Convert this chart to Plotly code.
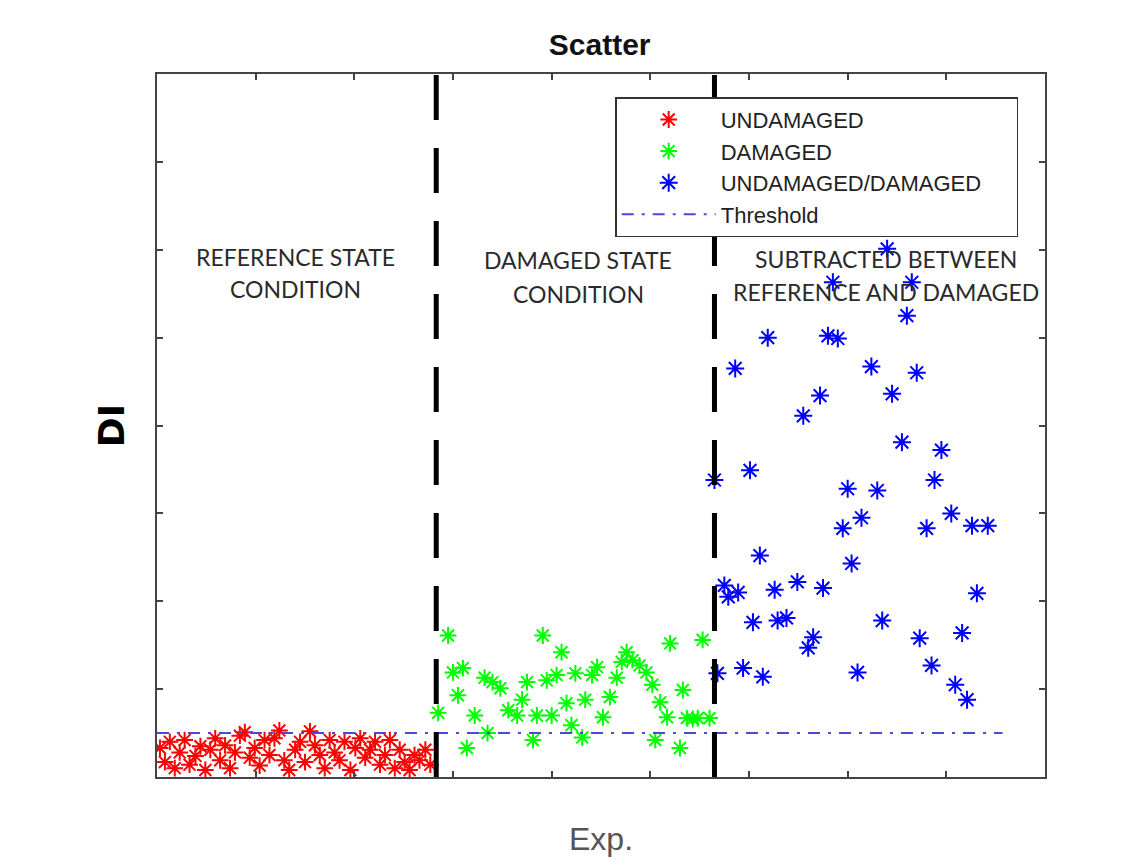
import plotly.graph_objects as go

# ---------------- data (axis units: x 0..9, y 0..8) ----------------
undamaged_x = [0.03, 0.08, 0.13, 0.18, 0.23, 0.28, 0.33, 0.39, 0.44, 0.49, 0.54, 0.59, 0.64, 0.69,
               0.74, 0.79, 0.84, 0.89, 0.94, 0.99, 1.04, 1.09, 1.14, 1.19, 1.24, 1.29, 1.34, 1.40,
               1.45, 1.50, 1.55, 1.60, 1.65, 1.70, 1.75, 1.80, 1.85, 1.90, 1.96, 2.01, 2.06, 2.11,
               2.16, 2.21, 2.26, 2.31, 2.36, 2.41, 2.46, 2.51, 2.56, 2.61, 2.66, 2.72, 2.77]
undamaged_y = [0.33, 0.17, 0.40, 0.10, 0.28, 0.42, 0.14, 0.24, 0.35, 0.08, 0.31, 0.44, 0.19, 0.36,
               0.10, 0.28, 0.47, 0.51, 0.22, 0.33, 0.13, 0.42, 0.25, 0.44, 0.53, 0.19, 0.08, 0.31,
               0.40, 0.17, 0.52, 0.36, 0.25, 0.10, 0.42, 0.28, 0.19, 0.40, 0.08, 0.33, 0.44, 0.22,
               0.31, 0.40, 0.14, 0.25, 0.42, 0.10, 0.31, 0.17, 0.08, 0.25, 0.19, 0.31, 0.14]

damaged_x = [2.95, 2.85, 3.00, 3.10, 3.05, 3.14, 3.22, 3.32, 3.40, 3.48, 3.35, 3.56, 3.65, 3.70,
             3.75, 3.81, 3.85, 3.91, 3.95, 4.00, 4.05, 4.10, 4.15, 4.20, 4.24, 4.31, 4.34, 4.41,
             4.46, 4.52, 4.59, 4.66, 4.71, 4.76, 4.82, 4.89, 4.96, 5.02, 5.05, 5.10, 5.17, 5.20,
             5.30, 5.33, 5.37, 5.43, 5.48, 5.53, 5.60]
damaged_y = [1.61, 0.73, 1.19, 1.24, 0.93, 0.33, 0.70, 1.13, 1.08, 1.01, 0.50, 0.76, 0.70, 0.88,
             1.08, 0.42, 0.70, 1.61, 1.10, 0.70, 1.16, 1.42, 0.84, 0.59, 1.18, 0.45, 0.88, 1.16,
             1.25, 0.68, 0.91, 1.13, 1.31, 1.42, 1.33, 1.27, 1.19, 1.05, 0.42, 0.85, 0.68, 1.52,
             0.33, 0.99, 0.67, 0.66, 0.67, 1.56, 0.67]

subtracted_x = [7.40, 6.85, 7.65, 7.60, 6.19, 6.80, 6.90, 5.86, 7.24, 7.70, 6.72, 7.45, 6.55, 7.55,
                7.95, 5.65, 6.01, 7.00, 7.30, 7.88, 7.14, 6.95, 7.80, 8.05, 8.26, 8.42, 6.11, 7.04,
                5.75, 5.79, 5.89, 6.26, 6.49, 6.75, 8.31, 6.04, 6.29, 6.38, 6.65, 6.60, 7.35, 7.73,
                8.16, 5.68, 5.94, 6.14, 7.10, 7.85, 8.09, 8.21]
subtracted_y = [6.01, 5.63, 5.63, 5.25, 5.00, 5.02, 4.99, 4.65, 4.67, 4.60, 4.34, 4.36, 4.11, 3.81,
                3.72, 3.38, 3.49, 3.28, 3.26, 3.38, 2.95, 2.83, 2.83, 3.00, 2.86, 2.86, 2.52, 2.43,
                2.18, 2.05, 2.10, 2.13, 2.22, 2.15, 2.09, 1.76, 1.78, 1.81, 1.59, 1.47, 1.78, 1.58,
                1.64, 1.18, 1.24, 1.14, 1.19, 1.27, 1.05, 0.88]

threshold_x = [0.0, 8.57]
threshold_y = [0.5, 0.5]

boundaries_x = [2.83, 5.65]

series_names = ["UNDAMAGED", "DAMAGED", "UNDAMAGED/DAMAGED", "Threshold"]

region_labels = [("REFERENCE STATE", "CONDITION", 1.40, 5.92, 5.55),
                 ("DAMAGED STATE", "CONDITION", 4.27, 5.88, 5.50),
                 ("SUBTRACTED BETWEEN", "REFERENCE AND DAMAGED", 7.39, 5.90, 5.52)]

# ---------------- figure ----------------
fig = go.Figure()

def star(color, size):
    return dict(symbol="asterisk", size=size, color=color, line=dict(width=2, color=color))

pad = "\u00a0" * 5  # widens the legend box like the original
fig.add_trace(go.Scatter(x=undamaged_x, y=undamaged_y, mode="markers", name=series_names[0],
                         marker=star("#ff0000", 14)))
fig.add_trace(go.Scatter(x=damaged_x, y=damaged_y, mode="markers", name=series_names[1],
                         marker=star("#00ff00", 14)))
fig.add_trace(go.Scatter(x=subtracted_x, y=subtracted_y, mode="markers", name=series_names[2] + pad,
                         marker=star("#0000ff", 15)))
fig.add_trace(go.Scatter(x=threshold_x, y=threshold_y, mode="lines", name=series_names[3],
                         line=dict(color="#4a4ad8", width=2, dash="12px,8px,3px,8px")))

for bx in boundaries_x:
    fig.add_shape(type="line", xref="x", yref="y", x0=bx, x1=bx, y0=0, y1=8,
                  line=dict(color="black", width=5, dash="45px,28px"), layer="above")

label_font = dict(family="Lato, Open Sans, sans-serif", size=23, color="#2a2a2a")
for l1, l2, cx, y1, y2 in region_labels:
    fig.add_annotation(x=cx, y=y1, text=l1, showarrow=False, font=label_font, xanchor="center", yanchor="middle")
    fig.add_annotation(x=cx, y=y2, text=l2, showarrow=False, font=label_font, xanchor="center", yanchor="middle")

axis_common = dict(showline=True, linecolor="#444444", linewidth=2, mirror="ticks",
                   ticks="inside", ticklen=6, tickwidth=1.5, tickcolor="#444444",
                   showticklabels=False, showgrid=False, zeroline=False)

fig.update_xaxes(range=[0, 9], tickmode="array", tickvals=[1, 2, 3, 4, 5, 6, 7, 8], **axis_common,
                 title=dict(text="Exp.", font=dict(family="Liberation Sans, Arial", size=32, color="#555555"),
                            standoff=50))
fig.update_yaxes(range=[0, 8], tickmode="array", tickvals=[1, 2, 3, 4, 5, 6, 7], **axis_common,
                 title=dict(text="<b>DI</b>", font=dict(family="DejaVu Sans", size=36, color="black"),
                            standoff=19))

fig.update_layout(
    width=1140, height=859,
    margin=dict(l=149, r=103, t=66, b=90),
    paper_bgcolor="white", plot_bgcolor="white",
    title=dict(text="<b>Scatter</b>", x=0.519, xanchor="center", y=0.958, yanchor="middle",
               font=dict(family="Liberation Sans, Arial", size=30, color="#111111")),
    legend=dict(x=0.516, y=0.967, xanchor="left", yanchor="top",
                bgcolor="white", bordercolor="#333333", borderwidth=1.5,
                font=dict(family="Liberation Sans, Arial", size=22, color="#222222"),
                itemwidth=94),
    showlegend=True,
)

fig.write_html("out.html")
